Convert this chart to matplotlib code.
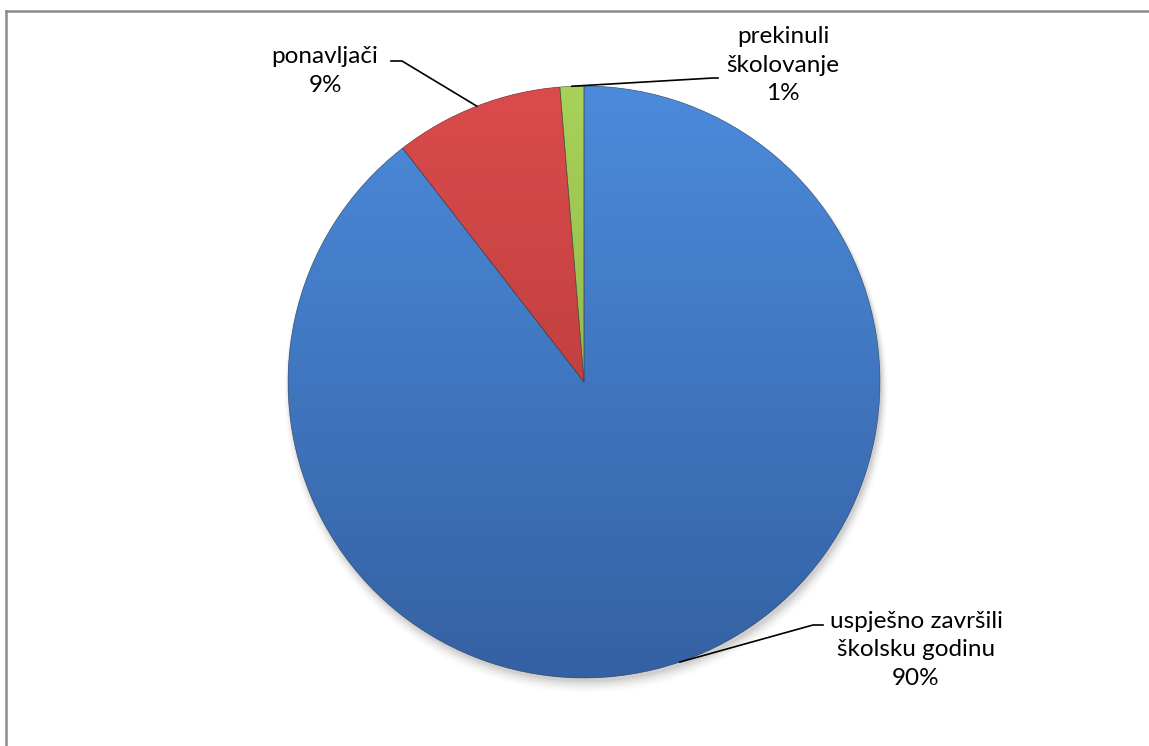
import numpy as np
import matplotlib
matplotlib.use("Agg")
import matplotlib.pyplot as plt
from matplotlib.colors import to_rgb
from matplotlib.lines import Line2D

categories = ["uspješno završili\nškolsku godinu", "ponavljači", "prekinuli\nškolovanje"]
values = [89.5, 9.2, 1.3]
pct_labels = ["90%", "9%", "1%"]

top_colors = ["#4C8BDB", "#DB4B4B", "#A8D25A"]
bottom_colors = ["#3461A3", "#A83634", "#7FA33E"]

W, H = 1149, 746
fig = plt.figure(figsize=(W / 100, H / 100), dpi=100)
ax = fig.add_axes([0, 0, 1, 1])

cx, cy, r = 584, H - 382, 296

# soft shadow
for i, a in enumerate(np.linspace(0.05, 0.01, 6)):
    sh = plt.Circle((cx + 2, cy - 4 - i), r + i * 1.2, color="black", alpha=a, lw=0, zorder=1)
    ax.add_patch(sh)

wedges, _ = ax.pie(values, colors=top_colors, startangle=90, counterclock=False,
                   center=(cx, cy), radius=r, frame=True,
                   wedgeprops=dict(linewidth=0))
ax.set_xlim(0, W)
ax.set_ylim(0, H)
ax.set_aspect("equal")
ax.axis("off")

N = 256
for w, tc, bc in zip(wedges, top_colors, bottom_colors):
    w.set_zorder(2)
    t = np.linspace(0, 1, N)[:, None]
    img = (1 - t) * np.array(to_rgb(tc)) + t * np.array(to_rgb(bc))
    img = img[:, None, :]
    im = ax.imshow(img, extent=(cx - r, cx + r, cy - r, cy + r), origin="upper",
                   aspect="auto", zorder=3, interpolation="bilinear")
    im.set_clip_path(w)
    w2 = matplotlib.patches.Wedge(w.center, w.r, w.theta1, w.theta2,
                                  facecolor="none", edgecolor="#3a3a3a", lw=0.5,
                                  alpha=0.6, zorder=4)
    ax.add_patch(w2)

# labels with leader lines
font = dict(family=["Lato", "DejaVu Sans"], fontsize=17.5, color="black")
label_pos = [(916, 650), (325, 71), (783, 65)]
bends = [(813, 625), (402, 61), (713, 78)]
ends = [(823, 625), (391, 61), (718, 78)]
for w, cat, pct, (lx, ly), (bx, by), (ex, ey) in zip(wedges, categories, pct_labels,
                                                     label_pos, bends, ends):
    mid = np.deg2rad((w.theta1 + w.theta2) / 2)
    px, py = cx + r * np.cos(mid), cy + r * np.sin(mid)
    ax.text(lx, H - ly, cat + "\n" + pct, ha="center", va="center",
            linespacing=1.45, zorder=6, **font)
    ax.add_line(Line2D([px, bx, ex], [py, H - by, H - ey], color="black", lw=1.2, zorder=5))

# chart border (top and left visible)
ax.add_line(Line2D([6, W], [H - 11, H - 11], color="#8c8c8c", lw=1.8, zorder=7))
ax.add_line(Line2D([6, 6], [H - 11, 0], color="#8c8c8c", lw=1.8, zorder=7))

fig.savefig("out.png", dpi=100, facecolor="white")
